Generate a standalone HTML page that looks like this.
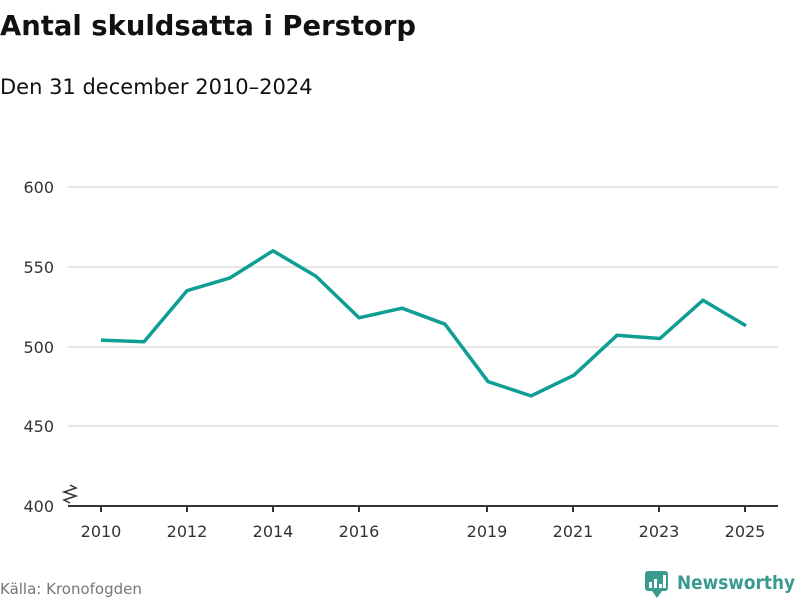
<!DOCTYPE html>
<html><head><meta charset="utf-8"><style>
body{margin:0;background:#fff;font-family:"DejaVu Sans","Liberation Sans",sans-serif;}
</style></head><body>
<svg width="800" height="600" xmlns="http://www.w3.org/2000/svg" style="display:block">
<text x="0" y="35" font-size="28" font-weight="bold" fill="#111" textLength="416" lengthAdjust="spacingAndGlyphs">Antal skuldsatta i Perstorp</text>
<text x="0" y="94" font-size="21" fill="#111">Den 31 december 2010–2024</text>
<g stroke="#ddd" stroke-width="1.5">
<line x1="68" x2="778" y1="187" y2="187"/>
<line x1="68" x2="778" y1="267" y2="267"/>
<line x1="68" x2="778" y1="347" y2="347"/>
<line x1="68" x2="778" y1="426" y2="426"/>
</g>
<g font-size="16" fill="#333" text-anchor="end">
<text x="54" y="193">600</text><text x="54" y="273">550</text>
<text x="54" y="353">500</text><text x="54" y="432">450</text><text x="54" y="512">400</text>
</g>
<line x1="68" x2="778" y1="506" y2="506" stroke="#333" stroke-width="2"/>
<path d="M70 485 L76 488 L64 492 L76 496 L64 500 L70 503" fill="none" stroke="#333" stroke-width="1.5"/>
<g stroke="#333" stroke-width="2">
<line x1="101" x2="101" y1="506" y2="512"/><line x1="187" x2="187" y1="506" y2="512"/>
<line x1="273" x2="273" y1="506" y2="512"/><line x1="359" x2="359" y1="506" y2="512"/>
<line x1="487" x2="487" y1="506" y2="512"/><line x1="573" x2="573" y1="506" y2="512"/>
<line x1="659" x2="659" y1="506" y2="512"/><line x1="745" x2="745" y1="506" y2="512"/>
</g>
<g font-size="16" fill="#333" text-anchor="middle">
<text x="101" y="537">2010</text><text x="187" y="537">2012</text><text x="273" y="537">2014</text>
<text x="359" y="537">2016</text><text x="487" y="537">2019</text><text x="573" y="537">2021</text>
<text x="659" y="537">2023</text><text x="745" y="537">2025</text>
</g>
<polyline fill="none" stroke="#0e9e94" stroke-width="3.5" stroke-linejoin="round" points="101,340.1 144,341.7 187,290.7 230,277.9 273,250.8 316,276.3 359,317.8 402,308.2 445,324.2 488,381.6 531,395.9 574,375.2 617,335.3 660,338.5 703,300.2 746,325.8"/>
<text x="0" y="594" font-size="15" fill="#777">Källa: Kronofogden</text>
<rect x="645" y="571" width="23" height="20" rx="3" fill="#3a9a90"/>
<path d="M652 591 L657 598 L662 591Z" fill="#3a9a90"/>
<g fill="#fff"><rect x="649" y="582" width="3" height="6"/><rect x="654" y="579" width="3" height="9"/><rect x="659" y="584" width="3" height="4"/><rect x="663" y="575" width="3" height="13"/></g>
<text x="677" y="589" font-size="19" font-weight="bold" fill="#3a9a90" textLength="118" lengthAdjust="spacingAndGlyphs">Newsworthy</text>
</svg>
</body></html>
